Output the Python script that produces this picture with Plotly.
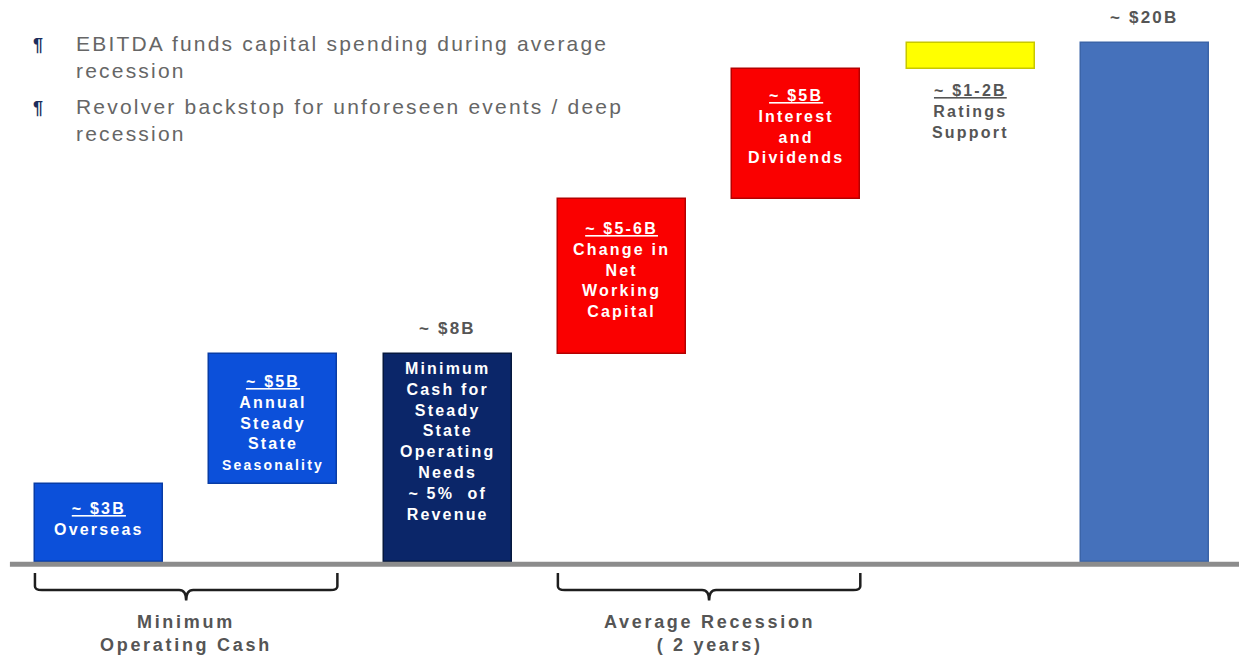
import plotly.graph_objects as go

# ---- data ----
categories = ["Overseas", "Seasonality", "Minimum Cash", "Net Working Capital",
              "Interest and Dividends", "Ratings Support", "Total"]
bases = [0, 3, 0, 8, 14, 19, 0]
values = [3, 5, 8, 6, 5, 1, 20]
colors = ["#0C50DA", "#0C50DA", "#0B2669", "#FA0000", "#FA0000", "#FFFF00", "#4571BB"]
line_colors = ["#083CA6", "#083CA6", "#06183F", "#B50000", "#B50000", "#C8C800", "#3B64A8"]

inside_labels = [
    "<u>~ $3B</u><br>Overseas",
    "<u>~ $5B</u><br>Annual<br>Steady<br>State<br><span style='font-size:14px'>Seasonality</span>",
    "Minimum<br>Cash for<br>Steady<br>State<br>Operating<br>Needs<br>~ 5%  of<br>Revenue",
    "<u>~ $5-6B</u><br>Change in<br>Net<br>Working<br>Capital",
    "<u>~ $5B</u><br>Interest<br>and<br>Dividends",
    None,
    None,
]
inside_offsets = [14, 17, 4, 19, 16, 0, 0]
below_labels = [None, None, None, None, None, "<u>~ $1-2B</u><br>Ratings<br>Support", None]
top_labels = [None, None, "~ $8B", None, None, None, "~ $20B"]

bullets = ["EBITDA funds capital spending during average<br>recession",
           "Revolver backstop for unforeseen events / deep<br>recession"]

groups = [("Minimum<br>Operating Cash", 0, 1), ("Average Recession<br>( 2 years)", 3, 4)]

bar_width = 0.735
xs = list(range(len(categories)))

fig = go.Figure()
fig.add_trace(go.Bar(
    x=xs, y=values, base=bases, width=bar_width,
    marker=dict(color=colors, line=dict(color=line_colors, width=1.5)),
    hoverinfo="skip", showlegend=False,
))

LS = "letter-spacing:2.2px"
annotations = []
for i in xs:
    top = bases[i] + values[i]
    if inside_labels[i]:
        annotations.append(dict(
            x=i, y=top, xref="x", yref="y", yanchor="top", xanchor="center",
            yshift=-inside_offsets[i], showarrow=False, align="center",
            text=f"<span style='{LS}'><b>{inside_labels[i]}</b></span>",
            font=dict(family="Liberation Sans, Arial", size=16, color="white"),
        ))
    if below_labels[i]:
        annotations.append(dict(
            x=i, y=bases[i], xref="x", yref="y", yanchor="top", xanchor="center",
            yshift=-11, showarrow=False, align="center",
            text=f"<span style='{LS}'><b>{below_labels[i]}</b></span>",
            font=dict(family="Liberation Sans, Arial", size=16, color="#555555"),
        ))
    if top_labels[i]:
        annotations.append(dict(
            x=i, y=top, xref="x", yref="y", yanchor="bottom", xanchor="center",
            yshift=14, showarrow=False,
            text=f"<span style='{LS}'><b>{top_labels[i]}</b></span>",
            font=dict(family="Liberation Sans, Arial", size=17, color="#555555"),
        ))

# bullet text
for k, t in enumerate(bullets):
    annotations.append(dict(
        x=74 / 1239, y=1 - (30 + 63 * k) / 664, xref="paper", yref="paper",
        xanchor="left", yanchor="top", showarrow=False, align="left",
        text=f"<span style='letter-spacing:2.2px'>{t}</span>",
        font=dict(family="Liberation Sans, Arial", size=21, color="#666666"),
    ))
    annotations.append(dict(
        x=31 / 1239, y=1 - (33 + 63 * k) / 664, xref="paper", yref="paper",
        xanchor="left", yanchor="top", showarrow=False,
        text="<b>¶</b>", font=dict(family="Liberation Sans, Arial", size=18, color="#1B2D5C"),
    ))

shapes = []
# baseline
shapes.append(dict(type="line", xref="paper", yref="y", x0=0.008, x1=1, y0=-0.09, y1=-0.09,
                   line=dict(color="#8C8C8C", width=5)))
# brackets
half = bar_width / 2
for label, a, b in groups:
    x0 = a - half
    x1 = b + half
    xm = (a + b) / 2
    ytop, ymid, ytip = -0.42, -1.08, -1.48
    r = 0.04
    path = (f"M {x0},{ytop} L {x0},{ymid + 0.15} Q {x0},{ymid} {x0 + r},{ymid} "
            f"L {xm - r},{ymid} Q {xm},{ymid} {xm},{ytip} Q {xm},{ymid} {xm + r},{ymid} "
            f"L {x1 - r},{ymid} Q {x1},{ymid} {x1},{ymid + 0.15} L {x1},{ytop}")
    shapes.append(dict(type="path", xref="x", yref="y", path=path,
                       line=dict(color="#1E1E1E", width=2.5)))
    annotations.append(dict(
        x=xm, y=ytip, xref="x", yref="y", yanchor="top", xanchor="center",
        yshift=-10, showarrow=False, align="center",
        text=f"<span style='letter-spacing:2.7px'><b>{label}</b></span>",
        font=dict(family="Liberation Sans Narrow, Liberation Sans, Arial", size=18, color="#555555"),
    ))

fig.update_layout(
    width=1239, height=664,
    margin=dict(l=0, r=0, t=0, b=0),
    paper_bgcolor="white", plot_bgcolor="white",
    xaxis=dict(range=[-0.568, 6.54], visible=False, fixedrange=True),
    yaxis=dict(range=[-3.93, 21.66], visible=False, fixedrange=True),
    annotations=annotations, shapes=shapes,
    bargap=0,
)

fig.write_html("out.html", config={"displayModeBar": False},
               post_script="document.body.style.margin='0';document.body.style.overflow='hidden';")
